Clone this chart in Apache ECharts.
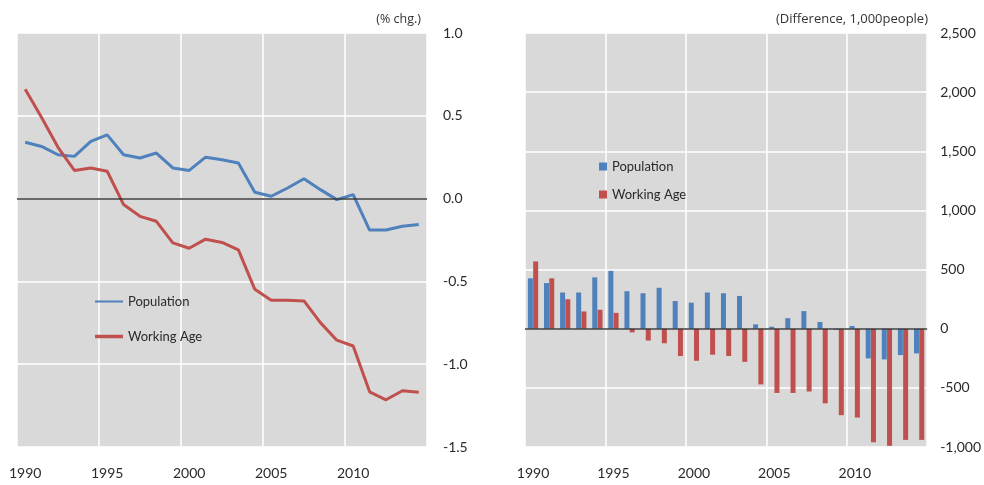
<!DOCTYPE html>
<html>
<head>
<meta charset="utf-8">
<script src="https://cdn.jsdelivr.net/npm/echarts@6/dist/echarts.min.js"></script>
<style>html,body{margin:0;padding:0;background:#fff}#c{width:984px;height:485px}</style>
</head>
<body>
<div id="c"></div>
<script>
const years = ['1990','1991','1992','1993','1994','1995','1996','1997','1998','1999','2000','2001','2002','2003','2004','2005','2006','2007','2008','2009','2010','2011','2012','2013','2014'];
const popPct = [0.34,0.315,0.265,0.255,0.345,0.385,0.265,0.245,0.275,0.185,0.17,0.25,0.235,0.215,0.038,0.014,0.064,0.12,0.054,-0.006,0.024,-0.19,-0.19,-0.167,-0.157];
const workPct = [0.66,0.49,0.31,0.17,0.185,0.165,-0.036,-0.107,-0.137,-0.267,-0.30,-0.245,-0.265,-0.31,-0.548,-0.614,-0.614,-0.618,-0.749,-0.855,-0.89,-1.167,-1.215,-1.16,-1.17];
const popDiff = [426,386,306,306,434,489,317,300,346,234,220,306,300,277,37,17,89,149,57,-9,23,-251,-260,-223,-209];
const workDiff = [569,426,249,146,160,134,-31,-100,-123,-231,-271,-220,-231,-280,-471,-543,-543,-531,-631,-731,-751,-960,-990,-940,-940];
const seriesNames = ['Population','Working Age'];
const leftUnit = '(% chg.)';
const rightUnit = '(Difference, 1,000people)';

const FONT = 'Lato';
const BLUE = '#4F81BD', RED = '#C0504D';
const chart = echarts.init(document.getElementById('c'), null, {renderer:'canvas'});

const xAxisBase = (gi) => ({
  type:'category', gridIndex:gi, data:years, boundaryGap:true,
  axisLine:{show:false}, axisTick:{show:false, interval:4},
  axisLabel:{interval:4, margin:19, fontFamily:FONT, fontSize:14, color:'#2a2a2a'},
  splitLine:{show:true, interval:4, lineStyle:{color:'#ffffff', width:1.5}}
});
const zeroLine = {silent:true, symbol:'none', label:{show:false},
  lineStyle:{color:'#3a3a3a', width:1.5, type:'solid'}, data:[{yAxis:0}]};
const legText = {fontFamily:FONT, fontSize:13, color:'#2a2a2a'};

chart.setOption({
  animation:false,
  color:[BLUE, RED],
  title:[
    {text:leftUnit, right:984-421, top:13, padding:0, textStyle:{fontFamily:'Open Sans', fontSize:12.5, fontWeight:'normal', color:'#333'}},
    {text:rightUnit, right:984-928, top:13, padding:0, textStyle:{fontFamily:'Open Sans', fontSize:13, fontWeight:'normal', color:'#333'}}
  ],
  grid:[
    {left:17, top:33, width:410, height:414, show:true, backgroundColor:'#d9d9d9', borderWidth:0},
    {left:525, top:33, width:404, height:414, show:true, backgroundColor:'#d9d9d9', borderWidth:0}
  ],
  legend:[
    {left:95, top:295, padding:0, itemWidth:28, itemHeight:2, icon:'rect',
     data:[seriesNames[0]], textStyle:legText, selectedMode:false},
    {left:95, top:330, padding:0, itemWidth:28, itemHeight:3.5, icon:'rect',
     data:[seriesNames[1]], textStyle:legText, selectedMode:false},
    {left:599, top:160, padding:0, orient:'vertical', itemGap:15, itemWidth:8, itemHeight:8,
     data:seriesNames.map(n=>({name:n, icon:'rect'})), textStyle:legText, selectedMode:false}
  ],
  xAxis:[xAxisBase(0), xAxisBase(1)],
  yAxis:[
    {type:'value', gridIndex:0, position:'right', min:-1.5, max:1.0, interval:0.5,
     axisLine:{show:false}, axisTick:{show:false},
     axisLabel:{margin:16, fontFamily:FONT, fontSize:14, color:'#2a2a2a', formatter:v=>v.toFixed(1)},
     splitLine:{show:true, lineStyle:{color:'#ffffff', width:1.5}}},
    {type:'value', gridIndex:1, position:'right', min:-1000, max:2500, interval:500,
     axisLine:{show:false}, axisTick:{show:false},
     axisLabel:{margin:13, fontFamily:FONT, fontSize:14, color:'#2a2a2a', formatter:v=>v.toLocaleString('en-US')},
     splitLine:{show:true, lineStyle:{color:'#ffffff', width:1.5}}}
  ],
  series:[
    {name:seriesNames[0], type:'line', xAxisIndex:0, yAxisIndex:0, data:popPct, symbol:'none',
     lineStyle:{color:BLUE, width:3}, itemStyle:{color:BLUE}, z:3},
    {name:seriesNames[1], type:'line', xAxisIndex:0, yAxisIndex:0, data:workPct, symbol:'none',
     lineStyle:{color:RED, width:3}, itemStyle:{color:RED}, z:3, markLine:zeroLine},
    {name:seriesNames[0], type:'bar', xAxisIndex:1, yAxisIndex:1, data:popDiff, barWidth:5, barGap:'5%',
     itemStyle:{color:BLUE}},
    {name:seriesNames[1], type:'bar', xAxisIndex:1, yAxisIndex:1, data:workDiff, barWidth:5, barGap:'5%',
     itemStyle:{color:RED}, markLine:zeroLine}
  ]
});
</script>
</body>
</html>
